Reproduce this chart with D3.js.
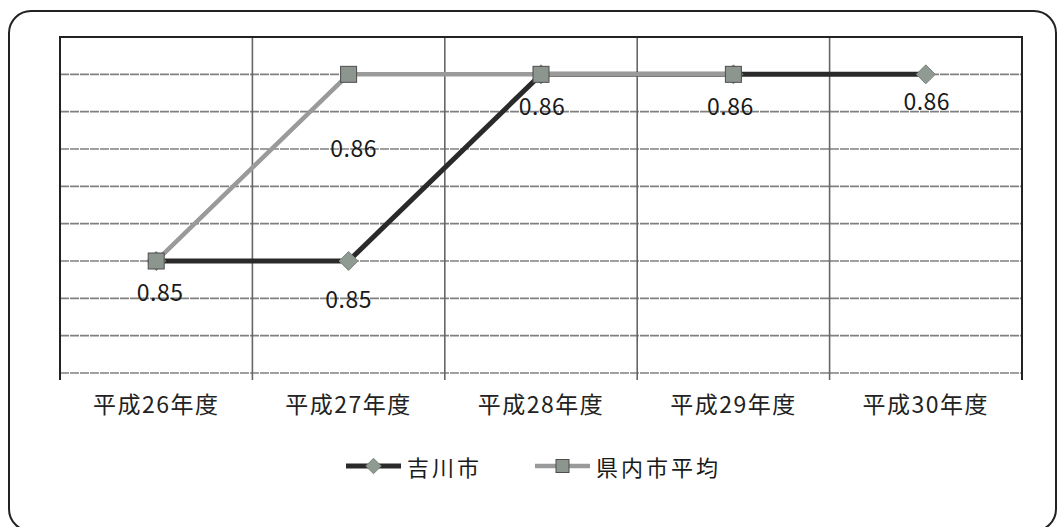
<!DOCTYPE html>
<html>
<head>
<meta charset="utf-8">
<script src="https://cdn.jsdelivr.net/npm/d3@7"></script>
<style>
	body { margin: 0; background: #fff; }
	text { font-family: "Noto Sans CJK JP", "Noto Sans", sans-serif; fill: #1a1a1a; }
</style>
</head>
<body>
<script>
const categories = ["平成26年度", "平成27年度", "平成28年度", "平成29年度", "平成30年度"];
const yoshikawaValues = [0.85, 0.85, 0.86, 0.86, 0.86];
const prefAverageValues = [0.85, 0.86, 0.86, 0.86, null];
const seriesNames = ["吉川市", "県内市平均"];
const yTicks = [0.844, 0.846, 0.848, 0.85, 0.852, 0.854, 0.856, 0.858, 0.86, 0.862];

const width = 1059;
const height = 527;
const plot = {left: 60, right: 1022, top: 37, bottom: 373};

const svg = d3.select("body")
	.append("svg")
	.attr("width", width)
	.attr("height", height);

// outer rounded frame
svg.append("rect")
	.attr("x", 9)
	.attr("y", 11)
	.attr("width", 1047)
	.attr("height", 520)
	.attr("rx", 22)
	.attr("fill", "#fff")
	.attr("stroke", "#222")
	.attr("stroke-width", 2);

const x = d3.scaleBand().domain(categories).range([plot.left, plot.right]).padding(0);
const y = d3.scaleLinear().domain([0.844, 0.862]).range([plot.bottom, plot.top]);
const cx = (d) => x(d) + x.bandwidth() / 2;

// horizontal gridlines
svg.append("g")
	.selectAll("line")
	.data(yTicks)
	.join("line")
	.attr("x1", plot.left)
	.attr("x2", plot.right)
	.attr("y1", d => y(d))
	.attr("y2", d => y(d))
	.attr("stroke", "#808080")
	.attr("stroke-width", 1.6)
	.attr("stroke-dasharray", "9,1");

// vertical category separators (with tick marks below axis)
const edges = categories.map(d => x(d)).concat([plot.right]);
svg.append("g")
	.selectAll("line")
	.data(edges.slice(1, -1))
	.join("line")
	.attr("x1", d => d)
	.attr("x2", d => d)
	.attr("y1", plot.top)
	.attr("y2", plot.bottom + 7)
	.attr("stroke", "#666")
	.attr("stroke-width", 1.6);

// plot border (top, left, right)
svg.append("path")
	.attr("d", `M${plot.left},${plot.bottom + 7}V${plot.top}H${plot.right}V${plot.bottom + 7}`)
	.attr("fill", "none")
	.attr("stroke", "#222")
	.attr("stroke-width", 2);

// category labels
const axisX = d3.axisBottom(x).tickSize(0).tickPadding(0);
const gx = svg.append("g")
	.attr("transform", `translate(0,${plot.bottom})`)
	.call(axisX);
gx.select(".domain").remove();
gx.selectAll("text")
	.attr("y", 40)
	.attr("dy", 0)
	.style("font-size", "23px")
	.style("letter-spacing", "1.5px")
	.style("fill", "#222");

const seriesList = [
	{name: seriesNames[0], values: yoshikawaValues, line: "#2a2a2a", width: 5, marker: "diamond"},
	{name: seriesNames[1], values: prefAverageValues, line: "#9a9a9a", width: 4.5, marker: "square"}
];

const lineGen = d3.line()
	.defined(d => d.v !== null)
	.x(d => cx(d.c))
	.y(d => y(d.v));

function drawMarker(g, type, size) {
	if (type === "diamond") {
		g.append("path")
			.attr("d", d3.symbol(d3.symbolDiamond2, size * size * 0.9)())
			.attr("fill", "#8f9a92")
			.attr("stroke", "#7a847d")
			.attr("stroke-width", 1);
	} else {
		g.append("rect")
			.attr("x", -size / 2)
			.attr("y", -size / 2)
			.attr("width", size)
			.attr("height", size)
			.attr("fill", "#8d958f")
			.attr("stroke", "#4d4d4d")
			.attr("stroke-width", 1);
	}
}

seriesList.forEach(s => {
	const pts = categories.map((c, i) => ({c: c, v: s.values[i]}));
	svg.append("path")
		.datum(pts)
		.attr("fill", "none")
		.attr("stroke", s.line)
		.attr("stroke-width", s.width)
		.attr("stroke-linejoin", "round")
		.attr("d", lineGen);
	pts.filter(p => p.v !== null).forEach(p => {
		const g = svg.append("g").attr("transform", `translate(${cx(p.c)},${y(p.v)})`);
		drawMarker(g, s.marker, 16);
	});
});

// data labels: which point of which series carries a label, and where it sits
const labelSpots = [
	{s: 1, i: 0, dx: 4, dy: 30},
	{s: 0, i: 1, dx: 0, dy: 37},
	{s: 1, i: 1, dx: 5, dy: 73},
	{s: 0, i: 2, dx: 1, dy: 31},
	{s: 0, i: 3, dx: -3, dy: 31},
	{s: 0, i: 4, dx: 1, dy: 26}
];
svg.append("g")
	.selectAll("text")
	.data(labelSpots)
	.join("text")
	.attr("x", d => cx(categories[d.i]) + d.dx)
	.attr("y", d => y(seriesList[d.s].values[d.i]) + d.dy)
	.attr("text-anchor", "middle")
	.attr("dominant-baseline", "central")
	.style("font-size", "23px")
	.style("letter-spacing", "0.5px")
	.text(d => seriesList[d.s].values[d.i].toFixed(2));

// legend
const legendItems = [
	{x: 346, textX: 407},
	{x: 535, textX: 596}
];
const legendY = 466;
seriesList.forEach((s, i) => {
	const it = legendItems[i];
	svg.append("line")
		.attr("x1", it.x)
		.attr("x2", it.x + 55)
		.attr("y1", legendY)
		.attr("y2", legendY)
		.attr("stroke", s.line)
		.attr("stroke-width", s.width);
	const g = svg.append("g").attr("transform", `translate(${it.x + 27.5},${legendY})`);
	drawMarker(g, s.marker, 13);
	svg.append("text")
		.attr("x", it.textX)
		.attr("y", legendY)
		.attr("dominant-baseline", "central")
		.style("font-size", "22px")
		.style("letter-spacing", "3px")
		.text(s.name);
});
</script>
</body>
</html>
